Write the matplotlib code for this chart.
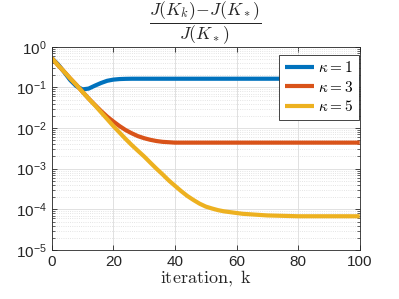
import matplotlib
matplotlib.use("Agg")
import matplotlib.pyplot as plt
from matplotlib.ticker import LogLocator, NullFormatter, FixedLocator

plt.rcParams['font.family'] = ['Liberation Sans', 'DejaVu Sans']
plt.rcParams['mathtext.fontset'] = 'cm'

iters = [0, 2, 4, 6, 8, 10, 12, 14, 16, 18, 20, 22, 24, 26, 28, 30, 32, 34, 36, 38,
         40, 42, 44, 46, 48, 50, 52, 54, 56, 58, 60, 62, 64, 66, 68, 70,
         75, 80, 85, 90, 95, 100]

kappa1 = [0.525, 0.372, 0.240, 0.151, 0.107, 0.0891, 0.0933, 0.110, 0.128, 0.145,
          0.155, 0.160, 0.162, 0.163, 0.163, 0.163, 0.163, 0.163, 0.163, 0.163,
          0.163, 0.163, 0.163, 0.163, 0.163, 0.163, 0.163, 0.163, 0.163, 0.163,
          0.163, 0.163, 0.163, 0.163, 0.163, 0.163,
          0.163, 0.163, 0.163, 0.163, 0.163, 0.163]

kappa3 = [0.525, 0.355, 0.245, 0.166, 0.115, 0.0776, 0.0530, 0.0372, 0.0263, 0.0191,
          0.0145, 0.0112, 0.00891, 0.00741, 0.00631, 0.00562, 0.00513, 0.00479, 0.00457, 0.00447,
          0.00437, 0.00437, 0.00437, 0.00437, 0.00437, 0.00437, 0.00437, 0.00437, 0.00437, 0.00437,
          0.00437, 0.00437, 0.00437, 0.00437, 0.00437, 0.00437,
          0.00437, 0.00437, 0.00437, 0.00437, 0.00437, 0.00437]

kappa5 = [0.525, 0.355, 0.245, 0.166, 0.115, 0.0776, 0.0525, 0.0363, 0.0245, 0.0166,
          0.0112, 0.00776, 0.00537, 0.00380, 0.00275, 0.00200, 0.00141, 0.00100, 0.000724, 0.000513,
          0.000380, 0.000282, 0.000214, 0.000170, 0.000138, 0.000117, 0.000105, 9.55e-5, 8.91e-5, 8.51e-5,
          8.13e-5, 7.76e-5, 7.59e-5, 7.41e-5, 7.24e-5, 7.08e-5,
          6.92e-5, 6.76e-5, 6.76e-5, 6.76e-5, 6.76e-5, 6.76e-5]

series = [(kappa1, r'$\kappa = 1$', '#0072BD'),
          (kappa3, r'$\kappa = 3$', '#D95319'),
          (kappa5, r'$\kappa = 5$', '#EDB120')]

xticks = [0, 20, 40, 60, 80, 100]

fig = plt.figure(figsize=(3.99, 2.99), dpi=100)
ax = fig.add_axes([0.1296, 0.1639, 0.772, 0.6799])

for vals, lab, col in series:
    ax.plot(iters, vals, color=col, lw=3.0, label=lab, solid_capstyle='butt')

ax.set_yscale('log')
ax.set_xlim(0, 100)
ax.set_ylim(1e-5, 1)
ax.xaxis.set_major_locator(FixedLocator(xticks))
ax.yaxis.set_major_locator(LogLocator(base=10, numticks=10))
ax.yaxis.set_minor_locator(LogLocator(base=10, subs=range(2, 10), numticks=20))
ax.yaxis.set_minor_formatter(NullFormatter())

ax.grid(True, which='major', color='#dcdcdc', lw=0.6)
ax.grid(True, which='minor', axis='y', color='#dcdcdc', lw=0.6, ls=':')
ax.set_axisbelow(True)

ax.tick_params(which='both', direction='in', top=True, right=True, colors='#262626',
               labelsize=11, labelcolor='#262626')
ax.tick_params(which='major', length=3.5, width=0.6)
ax.tick_params(which='minor', length=2, width=0.5)
for s in ax.spines.values():
    s.set_color('#262626')
    s.set_linewidth(0.6)

ax.set_xlabel(r'$\mathrm{iteration,\ k}$', fontsize=13, labelpad=0, color='#262626')
ax.set_title(r'$\dfrac{J(K_k)\!-\!J(K_*)}{J(K_*)}$', fontsize=12.7, pad=3, color='#262626')

leg = ax.legend(loc='upper right', bbox_to_anchor=(0.997, 0.96), fontsize=11,
                frameon=True, fancybox=False, edgecolor='#262626', framealpha=1,
                handlelength=1.9, borderpad=0.35, labelspacing=0.3, handletextpad=0.3,
                borderaxespad=0.0)
leg.get_frame().set_linewidth(0.6)

fig.savefig('out.png', dpi=100)
